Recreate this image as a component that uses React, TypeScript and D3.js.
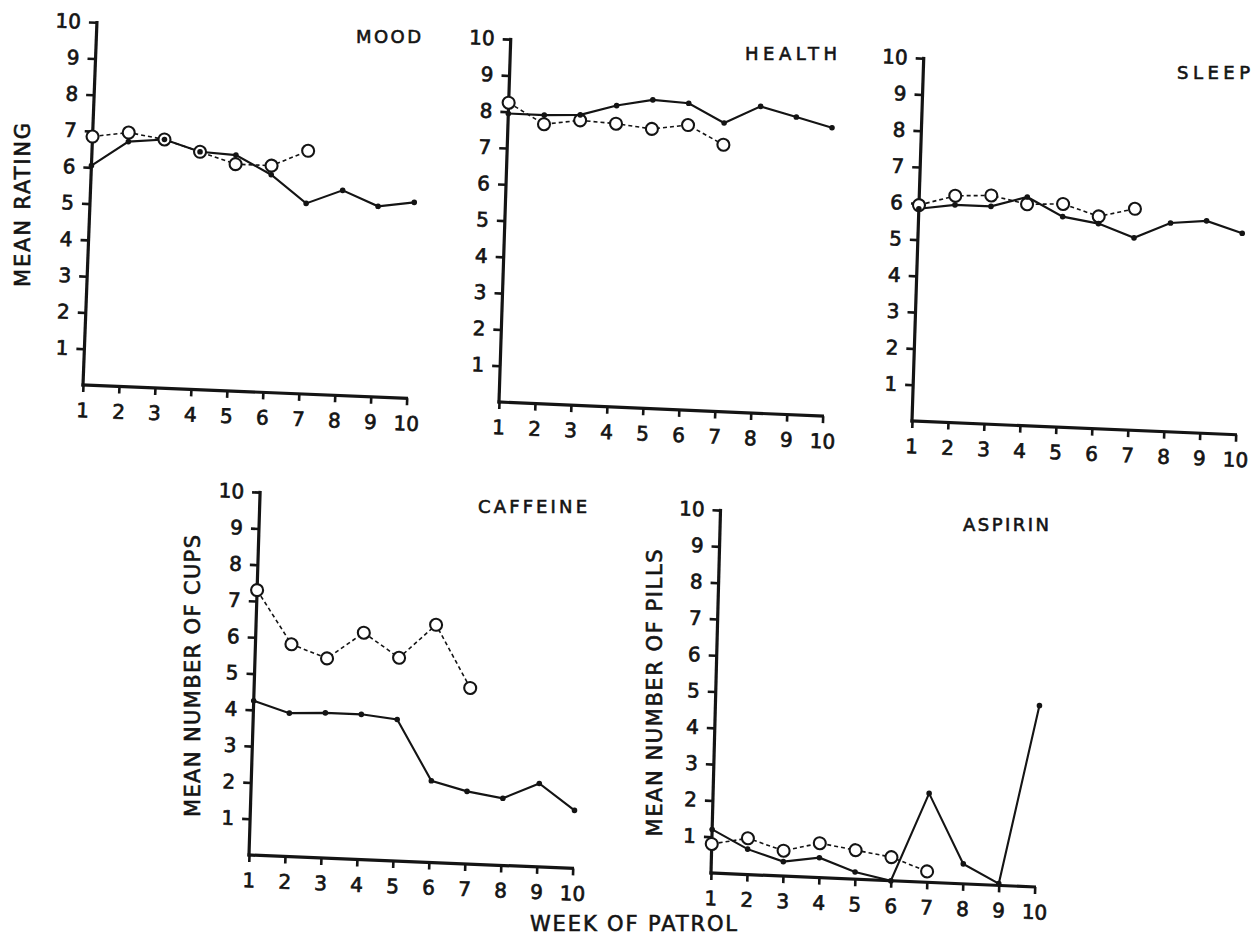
import React, { useRef, useEffect } from 'react';
import * as d3 from 'd3';

// weeks of patrol on the x axis, rating / count ticks on the y axis
const weeks: number[] = [1, 2, 3, 4, 5, 6, 7, 8, 9, 10];
const yTicks: number[] = [1, 2, 3, 4, 5, 6, 7, 8, 9, 10];

// filled dots (solid line, 10 weeks) and open circles (dashed line, 7 weeks)
const moodFilled: number[] = [6.05, 6.75, 6.85, 6.55, 6.5, 6.0, 5.25, 5.65, 5.25, 5.4];
const moodOpen: number[] = [6.85, 7.0, 6.85, 6.55, 6.25, 6.25, 6.7];

const healthFilled: number[] = [7.95, 7.95, 8.0, 8.3, 8.5, 8.45, 7.95, 8.45, 8.2, 7.95];
const healthOpen: number[] = [8.25, 7.7, 7.85, 7.8, 7.7, 7.85, 7.35];

const sleepFilled: number[] = [5.85, 6.0, 6.0, 6.3, 5.8, 5.65, 5.3, 5.75, 5.85, 5.55];
const sleepOpen: number[] = [5.95, 6.25, 6.3, 6.1, 6.15, 5.85, 6.1];

const caffeineFilled: number[] = [4.25, 3.95, 4.0, 4.0, 3.9, 2.25, 2.0, 1.85, 2.3, 1.6];
const caffeineOpen: number[] = [7.3, 5.85, 5.5, 6.25, 5.6, 6.55, 4.85];

const aspirinFilled: number[] = [1.2, 0.7, 0.4, 0.55, 0.2, 0.0, 2.45, 0.55, 0.05, 5.0];
const aspirinOpen: number[] = [0.8, 1.0, 0.7, 0.95, 0.8, 0.65, 0.3];

const INK = '#141414';
const FONT = '"DejaVu Sans", Verdana, sans-serif';
const UX = 36;   // px per week
const UY = 36.3; // px per rating unit

interface IPanel {
    title: string;
    titleWidth: number;
    filled: number[];
    open: number[];
    x0: number;
    y0: number;
    alpha: number; // tilt of the x axis (deg), scan skew
    beta: number;  // tilt of the y axis (deg)
}

const panels: IPanel[] = [
    { title: 'MOOD', titleWidth: 65, filled: moodFilled, open: moodOpen, x0: 83, y0: 385, alpha: 2.34, beta: 2.2 },
    { title: 'HEALTH', titleWidth: 92, filled: healthFilled, open: healthOpen, x0: 499, y0: 402, alpha: 2.5, beta: 1.85 },
    { title: 'SLEEP', titleWidth: 73, filled: sleepFilled, open: sleepOpen, x0: 912, y0: 421, alpha: 2.42, beta: 1.85 },
    { title: 'CAFFEINE', titleWidth: 109, filled: caffeineFilled, open: caffeineOpen, x0: 249, y0: 855, alpha: 2.37, beta: 1.75 },
    { title: 'ASPIRIN', titleWidth: 86, filled: aspirinFilled, open: aspirinOpen, x0: 711, y0: 873, alpha: 2.47, beta: 1.5 },
];

function Panel({ p }: { p: IPanel }) {
    const axisRef = useRef<SVGGElement>(null);

    const x = d3.scaleLinear().domain([1, 10]).range([0, 9 * UX]);
    const y = d3.scaleLinear().domain([0, 10]).range([0, -10 * UY]);

    const a = p.alpha * Math.PI / 180;
    const b = p.beta * Math.PI / 180;
    const matrix = `matrix(${Math.cos(a)},${Math.sin(a)},${-Math.sin(b)},${Math.cos(b)},${p.x0},${p.y0})`;

    useEffect(() => {
        if (!axisRef.current) return;
        const g = d3.select(axisRef.current);
        g.selectAll('*').remove();

        const yAxis = g.append('g')
            .call(d3.axisLeft(y).tickValues(yTicks).tickSize(8).tickPadding(8).tickFormat(d3.format('d')));
        const xAxis = g.append('g')
            .call(d3.axisBottom(x).tickValues(weeks).tickSize(7).tickPadding(11).tickFormat(d3.format('d')));

        [yAxis, xAxis].forEach(ax => {
            ax.select('.domain').remove();
            ax.selectAll('line').attr('stroke', INK).attr('stroke-width', 2.6);
            ax.selectAll('text')
                .attr('fill', INK)
                .attr('stroke', INK)
                .attr('stroke-width', 0.7)
                .attr('font-size', 20)
                .attr('font-family', FONT);
        });

        g.append('line')
            .attr('x1', 0).attr('y1', 1.5)
            .attr('x2', 0).attr('y2', y(10) - 1.3)
            .attr('stroke', INK).attr('stroke-width', 3.2);
        g.append('line')
            .attr('x1', -1.5).attr('y1', 0)
            .attr('x2', x(10) + 1.3).attr('y2', 0)
            .attr('stroke', INK).attr('stroke-width', 3.2);
    });

    const line = d3.line<number>()
        .x((_, i) => x(weeks[i]))
        .y(d => y(d));

    return (
        <g>
            <g transform={matrix}>
                <g ref={axisRef} />
                <path d={line(p.filled) || ''} fill="none" stroke={INK} strokeWidth={2.1} />
                <path d={line(p.open) || ''} fill="none" stroke={INK} strokeWidth={1.6} strokeDasharray="4,3" />
                {p.open.map((v, i) => (
                    <circle key={'o' + i} cx={x(weeks[i])} cy={y(v)} r={6}
                        fill="#fff" stroke={INK} strokeWidth={2.1} />
                ))}
                {p.filled.map((v, i) => (
                    <circle key={'f' + i} cx={x(weeks[i])} cy={y(v)} r={2.8} fill={INK} />
                ))}
            </g>
            <text x={p.x0 + 338} y={p.y0 - 342} textAnchor="end"
                fontFamily={FONT} fontSize={18} fill={INK} stroke={INK} strokeWidth={0.6}
                textLength={p.titleWidth} lengthAdjust="spacing">
                {p.title}
            </text>
        </g>
    );
}

function VLabel({ cx, cy, len, text }: { cx: number; cy: number; len: number; text: string }) {
    return (
        <text transform={`translate(${cx},${cy}) rotate(-90)`} textAnchor="middle"
            dominantBaseline="central" fontFamily={FONT} fontSize={21} fill={INK}
            stroke={INK} strokeWidth={0.6}
            textLength={len} lengthAdjust="spacing">
            {text}
        </text>
    );
}

export default function App() {
    return (
        <svg width={1260} height={950} style={{ position: 'absolute', left: 0, top: 0, background: '#fff' }}>
            <rect width={1260} height={950} fill="#fff" />
            {panels.map(p => <Panel key={p.title} p={p} />)}
            <VLabel cx={23} cy={205} len={164} text="MEAN RATING" />
            <VLabel cx={193} cy={676} len={282} text="MEAN NUMBER OF CUPS" />
            <VLabel cx={655} cy={693} len={287} text="MEAN NUMBER OF PILLS" />
            <text x={530} y={931} fontFamily={FONT} fontSize={21} fill={INK}
                stroke={INK} strokeWidth={0.6}
                textLength={207} lengthAdjust="spacing">
                WEEK OF PATROL
            </text>
        </svg>
    );
}
